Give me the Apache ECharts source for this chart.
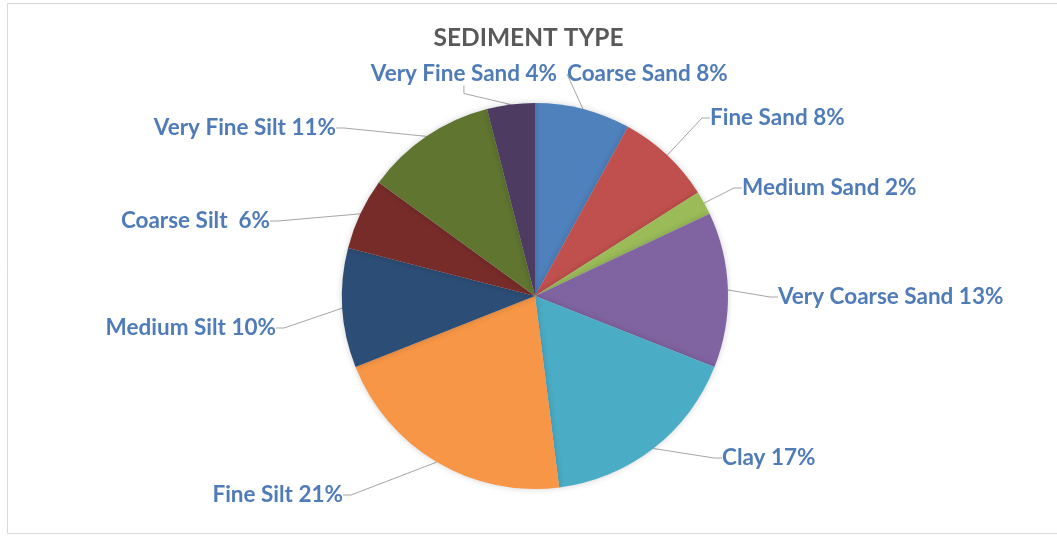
<!DOCTYPE html>
<html>
<head>
<meta charset="utf-8">
<script src="https://cdn.jsdelivr.net/npm/echarts@6/dist/echarts.min.js"></script>
<style>
  html, body { margin: 0; padding: 0; background: #ffffff; }
  #chart { width: 1057px; height: 536px; }
</style>
</head>
<body>
<div id="chart"></div>
<script>
// Sediment composition by grain size class (percent of sample)
const categories = [
  'Coarse Sand', 'Fine Sand', 'Medium Sand', 'Very Coarse Sand', 'Clay',
  'Fine Silt', 'Medium Silt', 'Coarse Silt ', 'Very Fine Silt', 'Very Fine Sand'
];
const percents = [8, 8, 2, 13, 17, 21, 10, 6, 11, 4];
const colors = [
  '#4f81bd', '#c0504d', '#9bbb59', '#8064a2', '#4bacc6',
  '#f79646', '#2c4d75', '#772c2a', '#5f7530', '#4d3b62'
];

// Where each callout label sits (anchor x, y and text alignment)
const labelSpots = [
  { x: 567, y: 74, align: 'left' },
  { x: 710, y: 118, align: 'left' },
  { x: 742, y: 188, align: 'left' },
  { x: 778, y: 297, align: 'left' },
  { x: 722, y: 458, align: 'left' },
  { x: 343, y: 495, align: 'right' },
  { x: 276, y: 328, align: 'right' },
  { x: 270, y: 221, align: 'right' },
  { x: 336, y: 128, align: 'right' },
  { x: 557, y: 74, align: 'right' }
];

const chart = echarts.init(document.getElementById('chart'));

chart.setOption({
  backgroundColor: '#ffffff',
  animation: false,
  title: {
    text: 'SEDIMENT TYPE',
    left: 'center',
    top: 21,
    textStyle: {
      fontFamily: 'Lato',
      fontWeight: 'bold',
      fontSize: 24.5,
      color: '#595959'
    }
  },
  graphic: [{
    type: 'rect',
    shape: { x: 7.5, y: 3.5, width: 1060, height: 530 },
    style: { fill: 'none', stroke: '#d9d9d9', lineWidth: 1 },
    silent: true
  }],
  series: [{
    type: 'pie',
    center: [535, 296],
    radius: 193,
    startAngle: 90,
    clockwise: true,
    data: categories.map((name, i) => ({
      name: name,
      value: percents[i],
      itemStyle: { color: colors[i] }
    })),
    itemStyle: {
      borderWidth: 0,
      shadowBlur: 6,
      shadowColor: 'rgba(0,0,0,0.18)'
    },
    label: {
      show: true,
      position: 'outside',
      formatter: p => p.name + ' ' + p.value + '%',
      fontFamily: 'Lato',
      fontWeight: 'bold',
      fontSize: 22.5,
      color: '#4f7cb8'
    },
    labelLine: {
      show: true,
      length: 10,
      length2: 8,
      lineStyle: { color: '#a6a6a6', width: 1 }
    },
    labelLayout: function (params) {
      const s = labelSpots[params.dataIndex];
      return {
        x: s.x,
        y: s.y,
        align: s.align,
        verticalAlign: 'middle'
      };
    }
  }]
});
</script>
</body>
</html>
